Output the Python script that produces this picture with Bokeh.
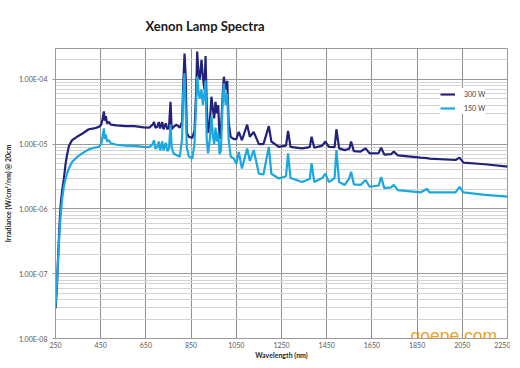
from bokeh.plotting import figure
from bokeh.models import (Range1d, FixedTicker, CustomJSTickFormatter, Legend, LegendItem,
                          Label)
from bokeh.embed import file_html
from bokeh.resources import INLINE

# ---- data ----
wavelength = [250, 256, 262, 268, 274, 280, 287, 294, 301, 310, 323, 345, 368, 397, 420, 442,
              452, 458, 464, 468, 473, 478, 486, 495, 520, 560, 600, 640, 665, 680, 686, 692,
              700, 707, 713, 722, 728, 738, 745, 752, 759, 764, 772, 785, 800, 810, 815, 821,
              826, 831, 840, 855, 865, 872, 877, 882, 888, 896, 902, 909, 914, 919, 925, 933,
              940, 946, 952, 958, 964, 970, 976, 982, 990, 995, 1003, 1010, 1016, 1025, 1039,
              1050, 1061, 1075, 1098, 1110, 1127, 1150, 1170, 1194, 1205, 1238, 1270, 1279,
              1290, 1341, 1375, 1383, 1395, 1430, 1444, 1460, 1485, 1493, 1505, 1530, 1550,
              1558, 1570, 1600, 1622, 1640, 1680, 1691, 1705, 1735, 1747, 1765, 1865, 1894,
              1905, 2020, 2038, 2055, 2150, 2250]

irr_300w = [2.9e-8, 6.0e-8, 2.0e-7, 6.0e-7, 1.3e-6, 2.0e-6, 2.9e-6, 4.8e-6, 6.8e-6, 9.5e-6,
            1.15e-5, 1.3e-5, 1.45e-5, 1.7e-5, 1.75e-5, 1.85e-5,
            2.0e-5, 2.4e-5, 3.2e-5, 2.3e-5, 2.7e-5, 2.1e-5, 2.2e-5, 2.0e-5, 1.95e-5, 1.9e-5,
            1.9e-5, 1.82e-5, 1.8e-5, 2.0e-5, 2.2e-5, 1.8e-5,
            1.85e-5, 2.2e-5, 1.75e-5, 2.2e-5, 1.7e-5, 2.1e-5, 1.7e-5, 1.8e-5, 4.5e-5, 1.7e-5,
            1.85e-5, 2.0e-5, 1.8e-5, 2.2e-5, 8.0e-5, 2.5e-4,
            1.1e-4, 1.5e-5, 1.3e-5, 1.25e-5, 1.6e-5, 6.0e-5, 2.7e-4, 1.3e-4, 1.0e-4, 2.0e-4,
            1.1e-4, 7.0e-5, 2.3e-4, 4.0e-5, 1.5e-5, 2.2e-5,
            5.4e-5, 3.5e-5, 2.5e-5, 4.5e-5, 3.0e-5, 4.0e-5, 1.2e-5, 1.6e-5, 6.0e-5, 1.1e-4,
            7.0e-5, 9.5e-5, 2.2e-5, 1.3e-5, 1.2e-5,
            1.2e-5, 1.55e-5, 1.15e-5, 2.0e-5, 1.3e-5, 1.55e-5, 1.0e-5, 1.0e-5, 1.9e-5, 1.1e-5,
            9.1e-6, 9.5e-6, 1.6e-5,
            9.1e-6, 8.6e-6, 9.0e-6, 1.3e-5, 8.8e-6, 9.5e-6, 1.1e-5, 9.1e-6, 9.0e-6, 1.7e-5,
            8.6e-6, 8.1e-6, 8.5e-6,
            1.1e-5, 7.8e-6, 7.7e-6, 8.6e-6, 7.2e-6, 7.3e-6, 8.8e-6, 6.9e-6, 7.0e-6, 7.7e-6,
            6.7e-6, 6.2e-6, 6.1e-6,
            6.0e-6, 5.7e-6, 6.2e-6, 5.2e-6, 4.9e-6, 4.5e-6]

irr_150w = [3.3e-8, 7.0e-8, 1.8e-7, 4.5e-7, 9.0e-7, 1.5e-6, 2.2e-6, 2.9e-6, 3.5e-6, 4.3e-6,
            5.3e-6, 6.3e-6, 7.2e-6, 8.3e-6, 8.8e-6, 9.1e-6,
            1.0e-5, 1.3e-5, 1.75e-5, 1.2e-5, 1.4e-5, 1.1e-5, 1.15e-5, 1.03e-5, 9.8e-6, 9.5e-6,
            9.4e-6, 9.1e-6, 9.0e-6, 1.0e-5, 1.15e-5, 8.5e-6,
            9.0e-6, 1.1e-5, 8.0e-6, 1.1e-5, 8.0e-6, 1.05e-5, 7.8e-6, 8.5e-6, 2.0e-5, 9.0e-6,
            7.2e-6, 6.8e-6, 6.4e-6, 1.2e-5, 6.0e-5, 1.24e-4,
            3.4e-5, 9.0e-6, 6.5e-6, 6.0e-6, 1.0e-5, 4.0e-5, 1.1e-4, 7.0e-5, 5.0e-5, 7.0e-5,
            4.0e-5, 6.0e-5, 9.7e-5, 1.2e-5, 7.2e-6, 1.2e-5,
            2.7e-5, 1.4e-5, 1.0e-5, 1.8e-5, 1.1e-5, 1.5e-5, 7.0e-6, 8.0e-6, 5.0e-5, 8.7e-5,
            4.0e-5, 6.0e-5, 1.2e-5, 6.5e-6, 6.0e-6,
            5.0e-6, 7.6e-6, 4.2e-6, 8.6e-6, 5.5e-6, 8.1e-6, 3.5e-6, 3.4e-6, 9.1e-6, 3.5e-6,
            2.95e-6, 3.2e-6, 7.2e-6,
            3.0e-6, 2.6e-6, 2.9e-6, 5.1e-6, 2.6e-6, 3.0e-6, 3.5e-6, 2.6e-6, 3.0e-6, 8.1e-6,
            2.6e-6, 2.35e-6, 3.0e-6,
            3.75e-6, 2.4e-6, 2.35e-6, 2.8e-6, 2.2e-6, 2.3e-6, 3.1e-6, 2.1e-6, 2.15e-6, 2.35e-6,
            1.95e-6, 1.8e-6, 2.05e-6,
            1.8e-6, 1.8e-6, 2.2e-6, 1.8e-6, 1.65e-6, 1.55e-6]

x_ticks = [250, 450, 650, 850, 1050, 1250, 1450, 1650, 1850, 2050, 2250]
y_ticks = [1e-8, 1e-7, 1e-6, 1e-5, 1e-4]
y_minor = [m * d for d in [1e-8, 1e-7, 1e-6, 1e-5, 1e-4] for m in range(2, 10) if m * d <= 3e-4]
series_names = ["300 W", "150 W"]

C300 = "#22227c"
C150 = "#1ba8e0"
FONT = "Lato"

p = figure(frame_width=452, frame_height=290, y_axis_type="log",
           x_range=Range1d(250, 2250), y_range=Range1d(1e-8, 3e-4),
           output_backend="svg", toolbar_location=None,
           min_border_left=49, min_border_right=3, min_border_top=42, min_border_bottom=14)

p.title.text = "Xenon Lamp Spectra"
p.title.text_font = FONT
p.title.text_font_size = "13px"
p.title.text_font_style = "bold"
p.title.text_color = "#1a1a1a"
p.title.align = "left"
p.title.offset = 90
p.title.standoff = 30

p.outline_line_color = "#9a9a9a"
p.background_fill_color = "white"

# axes
p.xaxis.ticker = FixedTicker(ticks=x_ticks, minor_ticks=[])
p.yaxis.ticker = FixedTicker(ticks=y_ticks, minor_ticks=y_minor)
p.yaxis.formatter = CustomJSTickFormatter(code="""
var s = tick.toExponential(2).toUpperCase();
return s.replace(/E([+-])(\\d)$/, 'E$10$2');
""")
for ax in (p.xaxis, p.yaxis):
    ax.axis_line_color = "#9a9a9a"
    ax.major_tick_line_color = "#9a9a9a"
    ax.major_tick_in = 0
    ax.minor_tick_line_color = None
    ax.major_label_text_font = FONT
    ax.major_label_text_font_size = "7px"
    ax.major_label_text_color = "#595959"
    ax.axis_label_text_font = FONT
    ax.axis_label_text_font_size = "7px"
    ax.axis_label_text_font_style = "bold"
    ax.axis_label_text_color = "#262626"
p.xaxis.axis_label = "Wavelength (nm)"
p.yaxis.axis_label = "Irradiance (W/cm²/nm) @ 20cm"
p.xaxis.major_tick_out = 0
p.xaxis.major_label_standoff = 3
p.xaxis.axis_label_standoff = 0
p.yaxis.major_tick_out = 3
p.yaxis.major_label_standoff = 4
p.yaxis.axis_label_standoff = 4

# grids
p.xgrid.ticker = FixedTicker(ticks=x_ticks)
p.xgrid.grid_line_color = "#8f8f8f"
p.xgrid.grid_line_width = 1
p.ygrid.ticker = FixedTicker(ticks=y_ticks, minor_ticks=y_minor)
p.ygrid.grid_line_color = "#9a9a9a"
p.ygrid.minor_grid_line_color = "#d4d4d4"

r300 = p.line(wavelength, irr_300w, line_color=C300, line_width=2.2)
r150 = p.line(wavelength, irr_150w, line_color=C150, line_width=2.2)

legend = Legend(items=[LegendItem(label=series_names[0], renderers=[r300]),
                       LegendItem(label=series_names[1], renderers=[r150])],
                location=(385, 224), orientation="vertical",
                padding=7, spacing=2, glyph_width=15, glyph_height=12, label_height=12,
                label_standoff=9, border_line_color=None, background_fill_color="white",
                background_fill_alpha=1.0, label_text_font=FONT, label_text_font_size="7px",
                label_text_color="#404040")
p.add_layout(legend)

wm = Label(x=355, y=3, x_units="screen", y_units="screen", text="goepe.com",
           text_font="Liberation Sans", text_font_size="17.5px", text_color="#e9a21f",
           text_baseline="alphabetic", text_align="left", level="overlay")
p.add_layout(wm)

open("out.html", "w").write(file_html(p, INLINE))
